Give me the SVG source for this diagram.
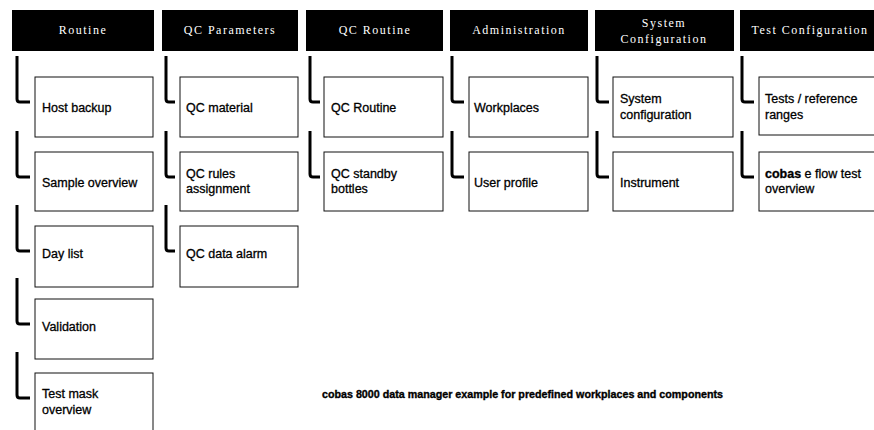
<svg xmlns="http://www.w3.org/2000/svg" width="874" height="430" viewBox="0 0 874 430">
<style>
.hdr{fill:#000}
.ht{fill:#fff;font-family:"Liberation Serif",serif;font-size:12px;letter-spacing:1.5px;text-anchor:middle}
.box{fill:#fff;stroke:#111;stroke-width:1}
.bt{fill:#000;stroke:#000;stroke-width:0.3;font-family:"Liberation Sans",Arial,sans-serif;font-size:12.5px}
.b{font-weight:bold}
.cn{fill:none;stroke:#000;stroke-width:3;stroke-linejoin:round}
.cap{fill:#000;stroke:#000;stroke-width:0.35;font-family:"Liberation Sans",Arial,sans-serif;font-size:10.5px;font-weight:bold}
</style>
<rect width="874" height="430" fill="#fff"/>
<g id="connectors">
<path class="cn" d="M17,56 V99 Q17,102 20,102 H30"/>
<path class="cn" d="M17,131 V174 Q17,177 20,177 H30"/>
<path class="cn" d="M17,205 V248 Q17,251 20,251 H30"/>
<path class="cn" d="M17,278 V321 Q17,324 20,324 H30"/>
<path class="cn" d="M17,352 V395 Q17,398 20,398 H30"/>
<path class="cn" d="M166,56 V99 Q166,102 169,102 H175"/>
<path class="cn" d="M166,131 V174 Q166,177 169,177 H175"/>
<path class="cn" d="M166,205 V248 Q166,251 169,251 H175"/>
<path class="cn" d="M310,56 V99 Q310,102 313,102 H320"/>
<path class="cn" d="M310,131 V174 Q310,177 313,177 H320"/>
<path class="cn" d="M452,56 V99 Q452,102 455,102 H464"/>
<path class="cn" d="M452,131 V174 Q452,177 455,177 H464"/>
<path class="cn" d="M597,56 V99 Q597,102 600,102 H609"/>
<path class="cn" d="M597,131 V174 Q597,177 600,177 H609"/>
<path class="cn" d="M742,56 V99 Q742,102 745,102 H754"/>
<path class="cn" d="M742,131 V174 Q742,177 745,177 H754"/>
</g>
<g id="h-routine"><rect class="hdr" x="12" y="10" width="142" height="41"/><text class="ht" x="83" y="34">Routine</text></g>
<g id="h-qcparam"><rect class="hdr" x="162" y="10" width="136" height="41"/><text class="ht" x="230" y="34">QC Parameters</text></g>
<g id="h-qcroutine"><rect class="hdr" x="306" y="10" width="137" height="41"/><text class="ht" x="375" y="34">QC Routine</text></g>
<g id="h-admin"><rect class="hdr" x="450" y="10" width="138" height="41"/><text class="ht" x="519" y="34">Administration</text></g>
<g id="h-sysconf"><rect class="hdr" x="595" y="10" width="139" height="41"/><text class="ht" x="664" y="27">System</text><text class="ht" x="664" y="43">Configuration</text></g>
<g id="h-testconf"><rect class="hdr" x="740" y="10" width="134" height="41"/><text class="ht" x="810" y="34">Test Configuration</text></g>

<g id="n-hostbackup"><rect class="box" x="35" y="77" width="118" height="60"/><text class="bt" x="42" y="112">Host backup</text></g>
<g id="n-sampleoverview"><rect class="box" x="35" y="152" width="118" height="59"/><text class="bt" x="42" y="187">Sample overview</text></g>
<g id="n-daylist"><rect class="box" x="35" y="226" width="118" height="61"/><text class="bt" x="42" y="258">Day list</text></g>
<g id="n-validation"><rect class="box" x="35" y="299" width="118" height="60"/><text class="bt" x="42" y="331">Validation</text></g>
<g id="n-testmask"><rect class="box" x="35" y="373" width="118" height="62"/><text class="bt" x="42" y="398">Test mask</text><text class="bt" x="42" y="414">overview</text></g>

<g id="n-qcmaterial"><rect class="box" x="180" y="77" width="118" height="60"/><text class="bt" x="186" y="112">QC material</text></g>
<g id="n-qcrules"><rect class="box" x="180" y="152" width="118" height="59"/><text class="bt" x="186" y="178">QC rules</text><text class="bt" x="186" y="193">assignment</text></g>
<g id="n-qcdataalarm"><rect class="box" x="180" y="226" width="118" height="61"/><text class="bt" x="186" y="258">QC data alarm</text></g>

<g id="n-qcroutine"><rect class="box" x="324" y="77" width="119" height="60"/><text class="bt" x="331" y="112">QC Routine</text></g>
<g id="n-qcstandby"><rect class="box" x="324" y="152" width="119" height="59"/><text class="bt" x="331" y="178">QC standby</text><text class="bt" x="331" y="193">bottles</text></g>

<g id="n-workplaces"><rect class="box" x="469" y="77" width="119" height="60"/><text class="bt" x="474" y="112">Workplaces</text></g>
<g id="n-userprofile"><rect class="box" x="469" y="152" width="119" height="59"/><text class="bt" x="474" y="187">User profile</text></g>

<g id="n-sysconfiguration"><rect class="box" x="613" y="77" width="120" height="60"/><text class="bt" x="620" y="103">System</text><text class="bt" x="620" y="119">configuration</text></g>
<g id="n-instrument"><rect class="box" x="613" y="152" width="120" height="59"/><text class="bt" x="620" y="187">Instrument</text></g>

<g id="n-tests"><rect class="box" x="759" y="77" width="120" height="58"/><text class="bt" x="765" y="103">Tests / reference</text><text class="bt" x="765" y="119">ranges</text></g>
<g id="n-cobaseflow"><rect class="box" x="759" y="152" width="120" height="59"/><text class="bt" x="765" y="178"><tspan class="b">cobas</tspan> e flow test</text><text class="bt" x="765" y="193">overview</text></g>

<text class="cap" x="322" y="398" textLength="401" lengthAdjust="spacingAndGlyphs">cobas 8000 data manager example for predefined workplaces and components</text>
</svg>
